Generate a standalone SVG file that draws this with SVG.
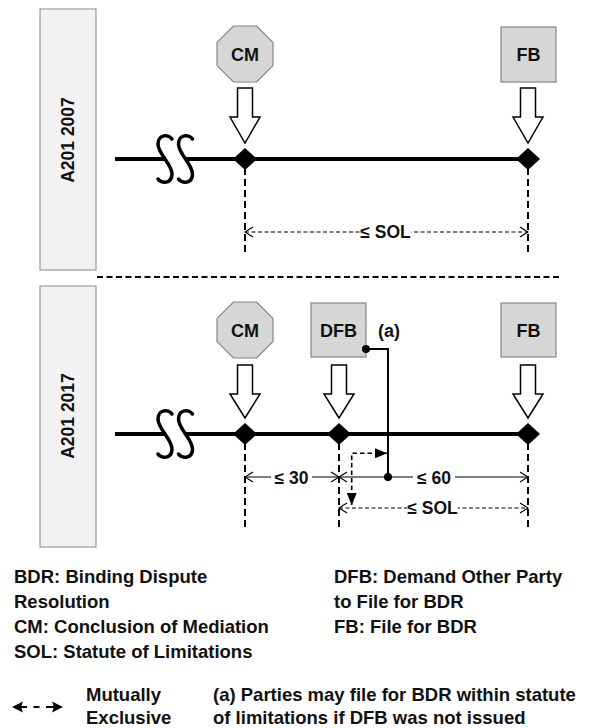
<svg xmlns="http://www.w3.org/2000/svg" width="589" height="728" viewBox="0 0 589 728">
<style>
text{font-family:"Liberation Sans",Arial,sans-serif;font-weight:bold;fill:#111}
.lbl{fill:#f2f2f2;stroke:#9a9a9a;stroke-width:1.2}
.node{fill:#d6d6d6;stroke:#858585;stroke-width:1.2}
.nt{font-size:18px;text-anchor:middle}
.vt{font-size:17.5px;text-anchor:middle}
.main{stroke:#000;stroke-width:4;fill:none}
.brk{stroke:#000;stroke-width:3.5;fill:none;stroke-linecap:round}
.harrow{fill:#fff;stroke:#000;stroke-width:1.5;stroke-linejoin:miter}
.dia{fill:#000}
.vdash{stroke:#000;stroke-width:2;stroke-dasharray:7 4;fill:none}
.div{stroke:#000;stroke-width:2;stroke-dasharray:6 3.5;fill:none}
.dim{stroke:#000;stroke-width:1.2;fill:none;marker-start:url(#chev);marker-end:url(#chev)}
.dimd{stroke:#000;stroke-width:1.2;fill:none;stroke-dasharray:4 2.5;marker-start:url(#chev);marker-end:url(#chev)}
.dl{font-size:17.5px;text-anchor:middle}
.mx{stroke:#000;stroke-width:1.6;fill:none;stroke-dasharray:4.5 3;marker-start:url(#tri);marker-end:url(#tri)}
.leg{font-size:18.5px}
</style>
<defs>
<marker id="chev" viewBox="0 0 10 12" refX="9" refY="6" markerWidth="10" markerHeight="12" markerUnits="userSpaceOnUse" orient="auto-start-reverse">
<path d="M1,1 L9,6 L1,11" fill="none" stroke="#000" stroke-width="1.2"/>
</marker>
<marker id="tri" viewBox="0 0 12 10" refX="12" refY="5" markerWidth="12" markerHeight="10" markerUnits="userSpaceOnUse" orient="auto-start-reverse">
<path d="M0,0 L12,5 L0,10 z" fill="#000"/>
</marker>
</defs>

<g id="label-2007">
<rect class="lbl" x="40" y="9" width="56" height="261"/>
<text class="vt" transform="translate(74,140) rotate(-90)">A201 2007</text>
</g>
<g id="label-2017">
<rect class="lbl" x="40" y="286" width="56" height="261"/>
<text class="vt" transform="translate(74,416) rotate(-90)">A201 2017</text>
</g>

<g id="cm-2007">
<polygon class="node" points="233.4,26 256.6,26 273,42.4 273,65.6 256.6,82 233.4,82 217,65.6 217,42.4"/>
<text class="nt" x="245" y="60.5">CM</text>
</g>
<g id="fb-2007">
<rect class="node" x="501" y="27" width="55" height="55"/>
<text class="nt" x="528.5" y="60.5">FB</text>
</g>
<g id="cm-2017">
<polygon class="node" points="233.4,302 256.6,302 273,318.4 273,341.6 256.6,358 233.4,358 217,341.6 217,318.4"/>
<text class="nt" x="245" y="336.5">CM</text>
</g>
<g id="dfb-2017">
<rect class="node" x="311" y="303" width="55" height="54"/>
<text class="nt" x="338.5" y="336.5">DFB</text>
</g>
<g id="fb-2017">
<rect class="node" x="501" y="303" width="55" height="54"/>
<text class="nt" x="528.5" y="336.5">FB</text>
</g>
<g id="note-a">
<text class="nt" x="389" y="337">(a)</text>
</g>

<g id="connectors">
<!-- divider -->
<path class="div" d="M97 277 H560"/>

<!-- timeline 2007 -->
<path class="main" d="M115 159 H165 M185.5 159 H528"/>
<path class="brk" d="M172 139 C169 134 158 134 158 144 C158 154 172 164 172 174 C172 184 161 184 158 179"/>
<path class="brk" d="M192.5 139 C189.5 134 178.5 134 178.5 144 C178.5 154 192.5 164 192.5 174 C192.5 184 181.5 184 178.5 179"/>
<path class="harrow" d="M237.5 88 H252.5 V117 H260 L245 143 L230 117 H237.5 Z"/>
<path class="harrow" d="M520.5 88 H535.5 V117 H543 L528 143 L513 117 H520.5 Z"/>
<path class="vdash" d="M245 168 V253 M528 168 V253"/>
<path class="dia" d="M245 148 L257 159 L245 170 L233 159 Z"/>
<path class="dia" d="M528 148 L540 159 L528 170 L516 159 Z"/>
<path class="dimd" d="M245 232 H528"/>
<rect x="360" y="222" width="51" height="20" fill="#fff"/>
<text class="dl" x="385.5" y="238">≤ SOL</text>

<!-- timeline 2017 -->
<path class="main" d="M115 434 H165 M185.5 434 H528"/>
<path class="brk" d="M172 414 C169 409 158 409 158 419 C158 429 172 439 172 449 C172 459 161 459 158 454"/>
<path class="brk" d="M192.5 414 C189.5 409 178.5 409 178.5 419 C178.5 429 192.5 439 192.5 449 C192.5 459 181.5 459 178.5 454"/>
<path class="harrow" d="M237.5 365 H252.5 V394 H260 L245 418 L230 394 H237.5 Z"/>
<path class="harrow" d="M331.5 365 H346.5 V394 H354 L339 418 L324 394 H331.5 Z"/>
<path class="harrow" d="M520.5 365 H535.5 V394 H543 L528 418 L513 394 H520.5 Z"/>
<path class="vdash" d="M245 443 V530 M339 443 V530 M528 443 V530"/>
<path d="M366 349 H388 V477" fill="none" stroke="#000" stroke-width="2"/>
<path class="dia" d="M245 423 L257 434 L245 445 L233 434 Z"/>
<path class="dia" d="M339 423 L351 434 L339 445 L327 434 Z"/>
<path class="dia" d="M528 423 L540 434 L528 445 L516 434 Z"/>
<circle cx="366" cy="349" r="4" fill="#000"/>

<path class="dim" d="M245 477 H339"/>
<rect x="271" y="467" width="41" height="20" fill="#fff"/>
<text class="dl" x="291.5" y="483.5">≤ 30</text>
<path class="dim" d="M339 477 H528"/>
<rect x="413" y="467" width="42" height="20" fill="#fff"/>
<text class="dl" x="434" y="483.5">≤ 60</text>
<circle cx="388" cy="477" r="4" fill="#000"/>

<path class="mx" d="M351.7 505 V453.3 H387"/>

<path class="dimd" d="M339 508 H528"/>
<rect x="407" y="498" width="51" height="20" fill="#fff"/>
<text class="dl" x="432.5" y="514">≤ SOL</text>
</g>

<g id="legend">
<text class="leg" x="14" y="583">BDR: Binding Dispute</text>
<text class="leg" x="14" y="608">Resolution</text>
<text class="leg" x="14" y="633">CM: Conclusion of Mediation</text>
<text class="leg" x="14" y="658">SOL: Statute of Limitations</text>
<text class="leg" x="334" y="583">DFB: Demand Other Party</text>
<text class="leg" x="334" y="608">to File for BDR</text>
<text class="leg" x="334" y="633">FB: File for BDR</text>
<path d="M12 707 L23 701.5 L21 707 L23 712.5 Z M63 707 L52 701.5 L54 707 L52 712.5 Z" fill="#000"/>
<path d="M21 707 H27 M33.5 707 H39.5 M46 707 H54" stroke="#000" stroke-width="2" fill="none"/>
<text class="leg" x="86" y="701">Mutually</text>
<text class="leg" x="86" y="724">Exclusive</text>
<text class="leg" x="213" y="701">(a) Parties may file for BDR within statute</text>
<text class="leg" x="213" y="724">of limitations if DFB was not issued</text>
</g>
</svg>
